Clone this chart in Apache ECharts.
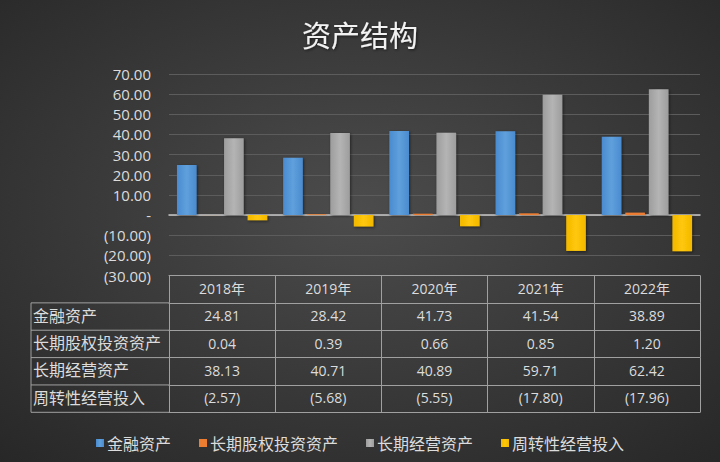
<!DOCTYPE html>
<html><head><meta charset="utf-8">
<script src="https://cdn.jsdelivr.net/npm/echarts@6/dist/echarts.min.js"></script>
<style>html,body{margin:0;padding:0;background:#333;}#c{width:720px;height:462px;}</style>
</head><body><div id="c"></div>
<script>
const categories = ['2018年','2019年','2020年','2021年','2022年'];
const seriesNames = ['金融资产','长期股权投资资产','长期经营资产','周转性经营投入'];
const finAssets = [24.81, 28.42, 41.73, 41.54, 38.89];
const equityInv = [0.04, 0.39, 0.66, 0.85, 1.20];
const opAssets = [38.13, 40.71, 40.89, 59.71, 62.42];
const workingInv = [-2.57, -5.68, -5.55, -17.80, -17.96];
const yTicks = {min: -30, max: 70, interval: 10};
const colors = ['#5b9bd5', '#ed7d31', '#a5a5a5', '#ffc000'];

const fmt = v => v === 0 ? '-' : (v < 0 ? '(' + Math.abs(v).toFixed(2) + ')' : v.toFixed(2));
const allData = [finAssets, equityInv, opAssets, workingInv];

const gridLeft = 169, gridRight = 20, gridTop = 74, gridBottomY = 275.5, rowH = 27.36;
const W = 720, H = 462;
const lineCol = '#a0a0a0';
const txtCol = '#dcdcdc';
const numFont = 'Open Sans';
const cjkFont = 'Noto Sans CJK SC';

const xAxes = [];
for (let k = 0; k < 5; k++) {
  const labels = k === 0 ? categories : allData[k - 1].map(fmt);
  xAxes.push({
    type: 'category', data: labels, position: 'bottom', offset: k * rowH,
    axisLine: {show: true, onZero: false, lineStyle: {color: lineCol, width: 1}},
    axisTick: {show: true, length: rowH, lineStyle: {color: lineCol, width: 1}},
    axisLabel: {show: true, margin: 6, color: txtCol, fontSize: 14, fontFamily: k === 0 ? numFont + ',' + cjkFont : numFont},
    splitLine: {show: false}
  });
}
xAxes.push({
  type: 'category', data: categories, position: 'bottom', offset: 5 * rowH,
  axisLine: {show: true, onZero: false, lineStyle: {color: lineCol, width: 1}},
  axisTick: {show: false}, axisLabel: {show: false}
});
xAxes.push({
  type: 'category', data: categories, position: 'bottom',
  axisLine: {show: true, onZero: true, lineStyle: {color: '#c8c8c8', width: 1.5}},
  axisTick: {show: false}, axisLabel: {show: false}
});

const graphics = [];
const tableLeft = 31;
for (let k = 1; k <= 5; k++) {
  const y = gridBottomY + k * rowH;
  graphics.push({type: 'line', shape: {x1: tableLeft, y1: y, x2: gridLeft, y2: y}, style: {stroke: lineCol, lineWidth: 1}, silent: true});
}
graphics.push({type: 'line', shape: {x1: tableLeft, y1: gridBottomY + rowH, x2: tableLeft, y2: gridBottomY + 5 * rowH}, style: {stroke: lineCol, lineWidth: 1}, silent: true});
seriesNames.forEach((n, i) => {
  graphics.push({type: 'text', left: tableLeft + 2, top: gridBottomY + (i + 1.5) * rowH - 10,
    style: {text: n, fill: txtCol, font: '16px "' + cjkFont + '"', textVerticalAlign: 'top'}, silent: true});
});

const series = seriesNames.map((n, i) => ({
  name: n, type: 'bar', data: allData[i], xAxisIndex: 0,
  barGap: '20%', barCategoryGap: '15%',
  itemStyle: {
    color: i === 0 ? new echarts.graphic.LinearGradient(0,0,1,0,[{offset:0,color:'#4a8bd0'},{offset:0.5,color:'#5fa0dc'},{offset:1,color:'#4a8bd0'}])
         : i === 2 ? new echarts.graphic.LinearGradient(0,0,1,0,[{offset:0,color:'#9d9d9d'},{offset:0.5,color:'#b4b4b4'},{offset:1,color:'#9d9d9d'}])
         : i === 3 ? new echarts.graphic.LinearGradient(0,0,1,0,[{offset:0,color:'#f2b800'},{offset:0.5,color:'#ffc80a'},{offset:1,color:'#f2b800'}])
         : colors[i],
    shadowBlur: 3, shadowColor: 'rgba(0,0,0,0.5)', shadowOffsetX: 1, shadowOffsetY: 1
  }
}));

const chart = echarts.init(document.getElementById('c'), null, {renderer: 'svg', width: W, height: H});
chart.setOption({
  animation: false,
  backgroundColor: {type: 'radial', x: 0.5, y: 0.45, r: 0.75, colorStops: [{offset: 0, color: '#4c4c4c'}, {offset: 1, color: '#272727'}]},
  color: colors,
  title: {text: '资产结构', left: 'center', top: 14,
    textStyle: {color: '#f2f2f2', fontSize: 29, fontWeight: 'normal', fontFamily: cjkFont,
      textShadowColor: 'rgba(0,0,0,0.6)', textShadowBlur: 3, textShadowOffsetX: 1, textShadowOffsetY: 1}},
  legend: {data: seriesNames, top: 430, left: 'center', icon: 'rect', itemWidth: 8, itemHeight: 8, itemGap: 28,
    textStyle: {color: txtCol, fontSize: 16, fontFamily: cjkFont, padding: [0, 0, 0, -2]}},
  grid: {left: gridLeft, right: gridRight, top: gridTop, bottom: H - gridBottomY, containLabel: false},
  xAxis: xAxes,
  yAxis: {type: 'value', min: yTicks.min, max: yTicks.max, interval: yTicks.interval,
    axisLine: {show: false}, axisTick: {show: false},
    axisLabel: {color: txtCol, fontSize: 15, fontFamily: numFont, margin: 18, formatter: fmt},
    splitLine: {lineStyle: {color: '#5c5c5c', width: 1}}},
  series: series,
  graphic: graphics
});
</script></body></html>
